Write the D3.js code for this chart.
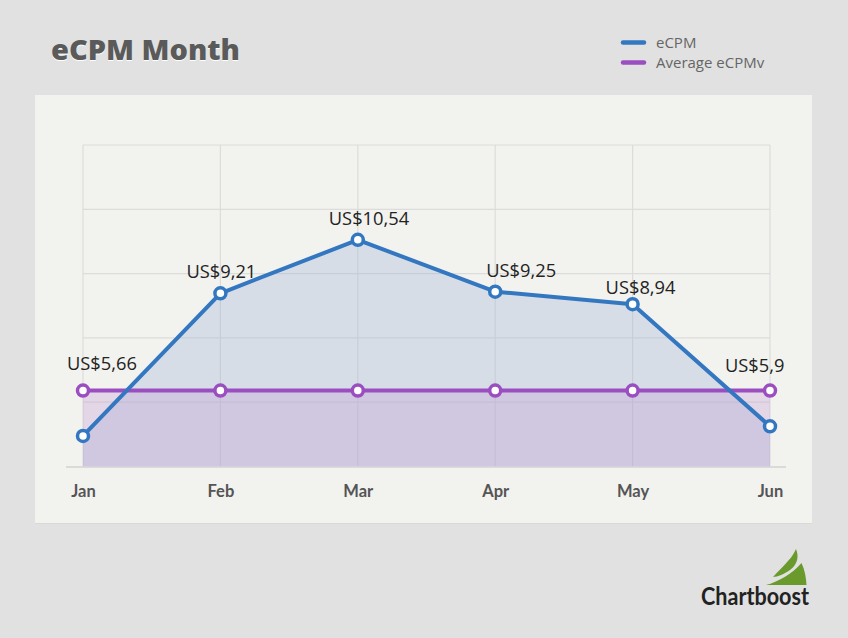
<!DOCTYPE html>
<html><head><meta charset="utf-8">
<script src="https://cdn.jsdelivr.net/npm/d3@7/dist/d3.min.js"></script>
<style>
html,body{margin:0;padding:0;background:#e1e1e1;}
svg{display:block;}
</style></head>
<body>
<svg id="chart" width="848" height="638"></svg>
<script>
// ---- data ----
const months = ["Jan","Feb","Mar","Apr","May","Jun"];
const ecpm = [5.66, 9.21, 10.54, 9.25, 8.94, 5.9];
const avgEcpmv = [6.79, 6.79, 6.79, 6.79, 6.79, 6.79];
const seriesNames = ["eCPM", "Average eCPMv"];
const yDomain = [4.9, 12.9];
const yGridStep = 1.6;
// label layout offsets (relative to point), not data
const labelDx = [-16, -34, -29, -9, -27, -45];
const labelDy = [-21, -15, -15, -15, -10, -19];

const svg = d3.select("#chart");
const W = 848, H = 638;
const blue = "#3377c1", purple = "#9a4ec0";

// background
svg.append("rect").attr("width", W).attr("height", H).attr("fill", "#e1e1e1");
// panel
svg.append("rect").attr("x", 35).attr("y", 96).attr("width", 777).attr("height", 428).attr("fill", "#d9d9d9");
svg.append("rect").attr("x", 35).attr("y", 95).attr("width", 777).attr("height", 428).attr("fill", "#f2f2ef");

const x = d3.scalePoint().domain(months).range([83, 770]);
const y = d3.scaleLinear().domain(yDomain).range([466.5, 145]);

// grid
const gridVals = d3.range(yDomain[0], yDomain[1] + 0.001, yGridStep);
const g = svg.append("g");
g.selectAll(".hg").data(gridVals.slice(1)).join("line")
  .attr("x1", x.range()[0]).attr("x2", x.range()[1])
  .attr("y1", d => y(d)).attr("y2", d => y(d))
  .attr("stroke", "#dcdcda").attr("stroke-width", 1.2);
g.selectAll(".vg").data(months).join("line")
  .attr("x1", d => x(d)).attr("x2", d => x(d))
  .attr("y1", y(yDomain[1])).attr("y2", y(yDomain[0]))
  .attr("stroke", "#dcdcda").attr("stroke-width", 1.2);

// areas
const areaGen = d3.area().x((d, i) => x(months[i])).y0(y(yDomain[0])).y1(d => y(d));
svg.append("path").datum(ecpm).attr("d", areaGen).attr("fill", "rgba(160,178,215,0.33)");
svg.append("path").datum(avgEcpmv).attr("d", areaGen).attr("fill", "rgba(192,150,210,0.30)");

// baseline axis
svg.append("line").attr("x1", 66).attr("x2", 786)
  .attr("y1", y(yDomain[0]) + 0.5).attr("y2", y(yDomain[0]) + 0.5)
  .attr("stroke", "#d2d2d2").attr("stroke-width", 1.5);

// lines
const line = d3.line().x((d, i) => x(months[i])).y(d => y(d));
svg.append("path").datum(avgEcpmv).attr("d", line).attr("fill", "none")
  .attr("stroke", purple).attr("stroke-width", 4);
svg.append("path").datum(ecpm).attr("d", line).attr("fill", "none")
  .attr("stroke", blue).attr("stroke-width", 4).attr("stroke-linejoin", "round");

// markers
svg.selectAll(".mp").data(avgEcpmv).join("circle")
  .attr("cx", (d, i) => x(months[i])).attr("cy", d => y(d)).attr("r", 5.5)
  .attr("fill", "#fff").attr("stroke", purple).attr("stroke-width", 3.5);
svg.selectAll(".mb").data(ecpm).join("circle")
  .attr("cx", (d, i) => x(months[i])).attr("cy", d => y(d)).attr("r", 5.5)
  .attr("fill", "#fff").attr("stroke", blue).attr("stroke-width", 3.5);

// value labels
svg.selectAll(".vl").data(ecpm).join("text")
  .attr("x", (d, i) => x(months[i]) + labelDx[i])
  .attr("y", (d, i) => Math.min(y(d), y(avgEcpmv[i])) + labelDy[i])
  .attr("font-family", "'Open Sans', sans-serif").attr("font-size", 18.3)
  .attr("fill", "#222")
  .text(d => "US$" + String(d).replace(".", ","));

// x axis labels
const xAxis = d3.axisBottom(x).tickSize(0).tickPadding(0);
const ax = svg.append("g").attr("transform", `translate(0,${y(yDomain[0])})`).call(xAxis);
ax.select(".domain").remove();
ax.selectAll("text").attr("dy", null).attr("y", 30)
  .attr("font-family", "Lato, 'Open Sans', sans-serif").attr("font-weight", 700)
  .attr("font-size", 16.5).attr("fill", "#555");

// title
const title = "eCPM Month";
svg.append("text").attr("x", 51).attr("y", 61).text(title)
  .attr("font-family", "'Open Sans', sans-serif").attr("font-weight", 800).attr("font-size", 28)
  .attr("textLength", 189).attr("lengthAdjust", "spacingAndGlyphs").attr("fill", "#fff");
svg.append("text").attr("x", 51).attr("y", 60).text(title)
  .attr("font-family", "'Open Sans', sans-serif").attr("font-weight", 800).attr("font-size", 28)
  .attr("textLength", 189).attr("lengthAdjust", "spacingAndGlyphs").attr("fill", "#5a5a5a");

// legend
const legColors = [blue, purple];
const leg = svg.append("g");
seriesNames.forEach((n, i) => {
  const yy = 42.5 + i * 20;
  leg.append("line").attr("x1", 623).attr("x2", 644).attr("y1", yy).attr("y2", yy)
    .attr("stroke", legColors[i]).attr("stroke-width", 4.5).attr("stroke-linecap", "round");
  leg.append("text").attr("x", 656).attr("y", yy + 5).text(n)
    .attr("font-family", "'Open Sans', sans-serif").attr("font-size", 15).attr("fill", "#666");
});

// Chartboost logo
const logo = svg.append("g");
logo.append("path")
  .attr("d", "M796,549 C799,556 798,564 790,570 C784,574 778,577 773,577 C778,571 784,566 788,561 C792,557 794,553 796,549 Z")
  .attr("fill", "#6b9a2c");
logo.append("path")
  .attr("d", "M766,585 C778,582 792,574 801.5,563 C805,570 806,578 806.5,585 Z")
  .attr("fill", "#6b9a2c");
logo.append("text").attr("x", 701).attr("y", 605).text("Chartboost")
  .attr("font-family", "Lato, 'Open Sans', sans-serif").attr("font-weight", 700).attr("font-size", 24)
  .attr("textLength", 108).attr("lengthAdjust", "spacingAndGlyphs").attr("fill", "#222");
</script>
</body></html>
